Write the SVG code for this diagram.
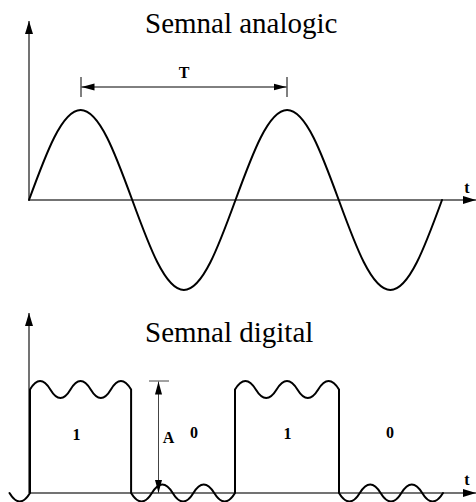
<svg xmlns="http://www.w3.org/2000/svg" width="476" height="502" viewBox="0 0 476 502">
<style>
.axis{stroke:#444;stroke-width:1.5;fill:none}
.wave{stroke:#000;stroke-width:2;fill:none;stroke-linejoin:round;stroke-linecap:round}
.dim{stroke:#000;stroke-width:1;fill:none}
.dimg{stroke:#444;stroke-width:1;fill:none}
.title{font-family:"Liberation Serif","Times New Roman",serif;font-size:29px;fill:#000}
.lbl{font-family:"Liberation Serif","Times New Roman",serif;font-size:16px;font-weight:bold;fill:#000;text-anchor:middle}
</style>
<defs>
<marker id="axArrow" markerUnits="userSpaceOnUse" markerWidth="14" markerHeight="9" refX="13" refY="4.5" orient="auto"><path d="M0,0.5 L13,4.5 L0,8.5 Z" fill="#000"/></marker>
<marker id="dimArrow" markerUnits="userSpaceOnUse" markerWidth="14" markerHeight="8" refX="13" refY="4" orient="auto-start-reverse"><path d="M0,0.5 L13,4 L0,7.5 Z" fill="#000"/></marker>
</defs>

<g id="analog">
<text class="title" x="145" y="33">Semnal analogic</text>
<g id="analog-axes">
<line class="axis" x1="29" y1="200" x2="29" y2="21" marker-end="url(#axArrow)"/>
<line class="axis" x1="29" y1="200" x2="476" y2="200" marker-end="url(#axArrow)"/>
<text class="lbl" x="467" y="193">t</text>
</g>
<path id="sine" class="wave" d="M29,200 C45.84,153.9 61.94,110 80.63,110 C99.31,110 115.41,153.9 132.25,200 C149.09,246.1 165.19,290 183.88,290 C202.56,290 218.66,246.1 235.5,200 C252.34,153.9 268.44,110 287.13,110 C305.81,110 321.91,153.9 338.75,200 C355.59,246.1 371.69,290 390.38,290 C409.06,290 425.16,246.1 442,200"/>
<g id="period">
<line class="dim" x1="81" y1="77" x2="81" y2="97"/>
<line class="dim" x1="287" y1="77" x2="287" y2="97"/>
<line class="dim" x1="81.5" y1="87" x2="286.5" y2="87" marker-start="url(#dimArrow)" marker-end="url(#dimArrow)"/>
<text class="lbl" x="184" y="78" font-size="15">T</text>
</g>
</g>

<g id="digital">
<text class="title" x="145" y="342">Semnal digital</text>
<g id="digital-axes">
<line class="axis" x1="29" y1="493" x2="29" y2="313" marker-end="url(#axArrow)"/>
<line class="axis" x1="29" y1="493" x2="476" y2="493" marker-end="url(#axArrow)"/>
<text class="lbl" x="467" y="485">t</text>
</g>
<path id="square" class="wave" d="M9.5,493 Q19.75,510 30,493 L30,389.5 Q40.1,372.5 50.3,389.5 T70.5,389.5 T90.7,389.5 T110.9,389.5 T131.1,389.5 L131.1,493 Q141.5,510 151.9,493 T172.7,493 T193.4,493 T214.2,493 T235,493 L235,389.5 Q245.4,372.5 255.8,389.5 T276.6,389.5 T297.4,389.5 T318.2,389.5 T339,389.5 L339,493 Q349.4,510 359.8,493 T380.6,493 T401.4,493 T422.2,493 T443,493"/>
<g id="amplitude">
<line class="dimg" x1="149" y1="381" x2="169" y2="381"/>
<line class="dimg" x1="158.5" y1="381.5" x2="158.5" y2="493" marker-start="url(#dimArrow)" marker-end="url(#dimArrow)"/>
<text class="lbl" x="168.5" y="443">A</text>
</g>
<g id="bits">
<text class="lbl" x="76.5" y="440">1</text>
<text class="lbl" x="194" y="438">0</text>
<text class="lbl" x="287.5" y="439">1</text>
<text class="lbl" x="390" y="438">0</text>
</g>
</g>
</svg>
